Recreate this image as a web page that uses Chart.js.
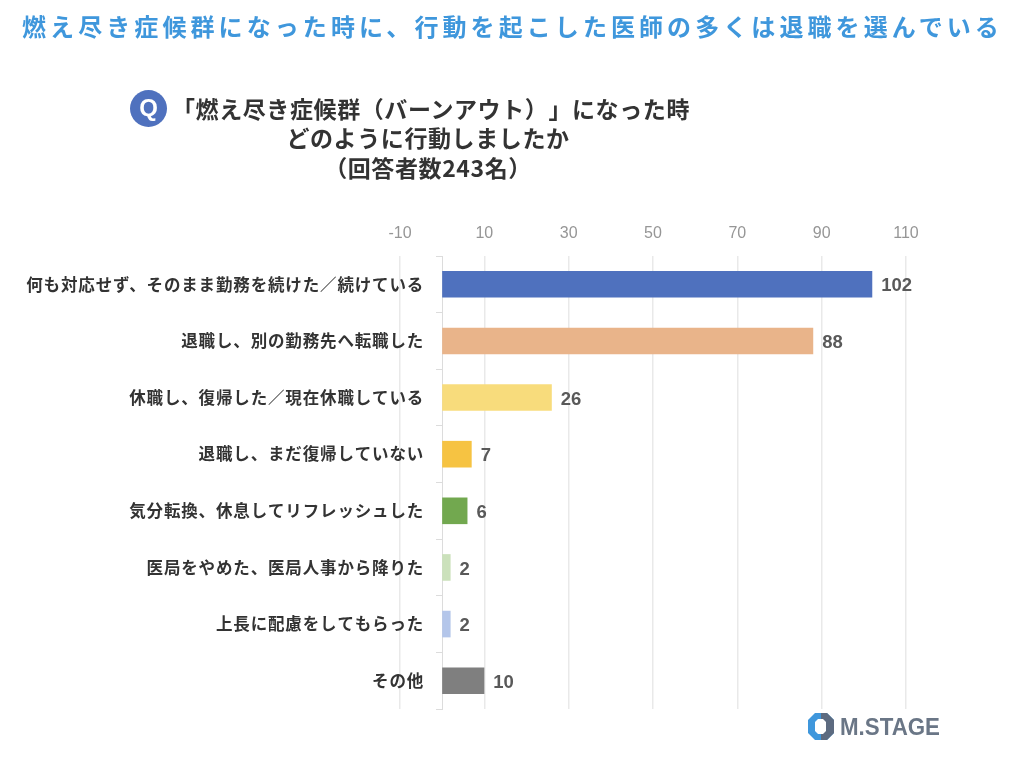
<!DOCTYPE html>
<html lang="ja">
<head>
<meta charset="utf-8">
<title>燃え尽き症候群</title>
<script src="https://cdn.jsdelivr.net/npm/chart.js@4"></script>
<style>
html, body { margin: 0; padding: 0; background: #fff; }
body { width: 1029px; height: 761px; position: relative; overflow: hidden; font-family: "Noto Sans CJK JP", "Noto Sans", sans-serif; text-spacing-trim: space-all; }
#chartBox { position: absolute; left: 0; top: 0; width: 1029px; height: 761px; }
canvas { display: block; }
.headline { position: absolute; left: 22px; top: 8px; color: #3f97dc; font-size: 24px; font-weight: 700; letter-spacing: 4.08px; white-space: nowrap; }
.question { position: absolute; left: 170px; top: 93.5px; width: 522px; text-align: center; color: #333; font-size: 23px; font-weight: 700; line-height: 29.5px; letter-spacing: 0.6px; white-space: nowrap; }
.question span { position: relative; left: -3px; }
.badge { position: absolute; left: 130px; top: 90px; width: 37px; height: 37px; border-radius: 50%; background: #4f71be; color: #fff; font: 700 24px/36px "Liberation Sans", sans-serif; text-align: center; }
.logo { position: absolute; left: 806px; top: 711px; }
</style>
</head>
<body>
<div id="chartBox"><canvas id="chart" width="1029" height="761"></canvas></div>
<div class="headline">燃え尽き症候群になった時に、行動を起こした医師の多くは退職を選んでいる</div>
<div class="badge">Q</div>
<div class="question">「燃え尽き症候群（バーンアウト）」になった時<br><span>どのように行動しましたか</span><br><span>（回答者数243名）</span></div>
<svg class="logo" width="140" height="32" viewBox="0 0 140 32">
  <polygon points="9,2 21,2 28,9 28,22 21,29 9,29 2,22 2,9" fill="#3f97dc"/>
  <polygon points="15,2 21,2 28,9 28,22 21,29 15,29" fill="#5d6b80"/>
  <polygon points="12,8 17,8 20,11 20,20 17,23 12,23 9,20 9,11" fill="#fff"/>
  <text x="34" y="24" font-family="Liberation Sans" font-weight="700" font-size="23" fill="#6a7686" textLength="100" lengthAdjust="spacingAndGlyphs">M.STAGE</text>
</svg>
<script>
const categories = [
    "何も対応せず、そのまま勤務を続けた／続けている",
    "退職し、別の勤務先へ転職した",
    "休職し、復帰した／現在休職している",
    "退職し、まだ復帰していない",
    "気分転換、休息してリフレッシュした",
    "医局をやめた、医局人事から降りた",
    "上長に配慮をしてもらった",
    "その他"
];
const responses = [102, 88, 26, 7, 6, 2, 2, 10];
const barColors = ["#4f71be", "#e9b48a", "#f8dc7c", "#f6c342", "#72a84f", "#cbe1bb", "#b4c6ea", "#7f7f7f"];

// value labels at the end of each bar
const valueLabels = {
    id: "valueLabels",
    afterDatasetsDraw(chart) {
        const ctx = chart.ctx;
        const meta = chart.getDatasetMeta(0);
        ctx.save();
        ctx.font = '700 18.5px "Liberation Sans", sans-serif';
        ctx.fillStyle = "#595959";
        ctx.textBaseline = "middle";
        meta.data.forEach((bar, i) => {
            ctx.fillText(responses[i], bar.x + 9, bar.y + 2);
        });
        ctx.restore();
    }
};

// category names sit left of the zero line with wider letter spacing,
// the axis position option ignores ticks.padding so they are drawn here
const categoryLabels = {
    id: "categoryLabels",
    afterDraw(chart) {
        const ctx = chart.ctx;
        const yScale = chart.scales.y;
        const right = chart.scales.x.getPixelForValue(0) - 18;
        ctx.save();
        ctx.font = '700 16.5px "Noto Sans CJK JP", sans-serif';
        ctx.letterSpacing = "0.85px";
        ctx.fillStyle = "#333";
        ctx.textAlign = "right";
        ctx.textBaseline = "middle";
        categories.forEach((name, i) => {
            ctx.fillText(name, right, yScale.getPixelForTick(i));
        });
        ctx.restore();
    }
};

new Chart(document.getElementById("chart"), {
    type: "bar",
    data: {
        labels: categories,
        datasets: [{
            data: responses,
            backgroundColor: barColors,
            barPercentage: 0.47,
            categoryPercentage: 1
        }]
    },
    options: {
        indexAxis: "y",
        responsive: false,
        animation: false,
        layout: { padding: { left: 400, right: 123, top: 222, bottom: 52 } },
        plugins: { legend: { display: false }, tooltip: { enabled: false } },
        scales: {
            x: {
                position: "top",
                min: -10,
                max: 110,
                ticks: { stepSize: 20, color: "#969696", padding: 13, font: { family: "Liberation Sans", size: 16 } },
                grid: { color: "#e9e9e9", lineWidth: 1.5, drawTicks: false },
                border: { display: false },
                afterFit(scale) { scale.height = 34; }
            },
            y: {
                position: { x: 0 },
                ticks: { display: false, autoSkip: false },
                grid: { drawOnChartArea: false, color: "#dcdcdc", tickLength: 6 },
                border: { color: "#dcdcdc", width: 1 }
            }
        }
    },
    plugins: [valueLabels, categoryLabels]
});
</script>
</body>
</html>
